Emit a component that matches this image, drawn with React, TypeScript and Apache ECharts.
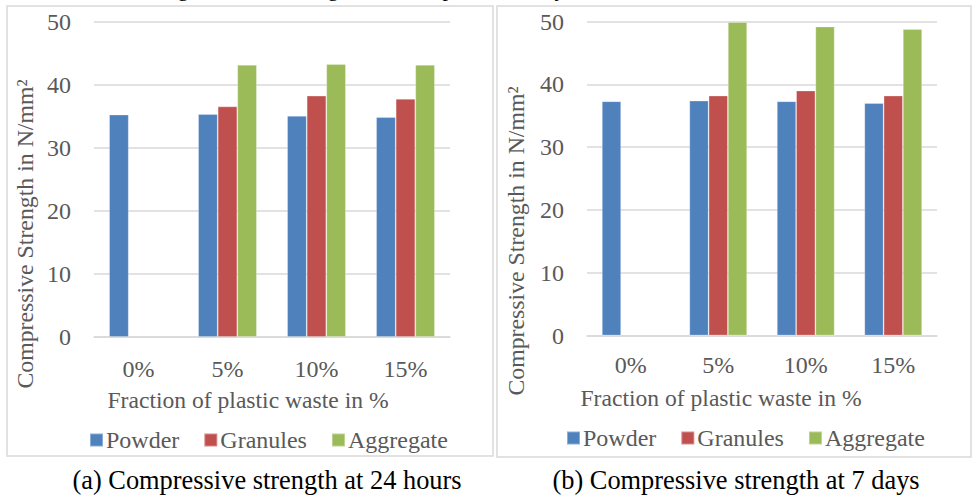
import React, { useEffect, useRef } from "react";
import * as echarts from "echarts";

const categories = ["0%", "5%", "10%", "15%"];
const seriesNames = ["Powder", "Granules", "Aggregate"];
const powder24h = [35.3, 35.4, 35.1, 34.9];
const granules24h = [null, 36.6, 38.3, 37.8];
const aggregate24h = [null, 43.2, 43.3, 43.2];
const powder7d = [37.3, 37.4, 37.3, 37.0];
const granules7d = [null, 38.2, 39.0, 38.2];
const aggregate7d = [null, 49.9, 49.2, 48.8];
const yTicks = [0, 10, 20, 30, 40, 50];
const colors = ["#4f81bd", "#c0504d", "#9bbb59"];

const FONT = "Liberation Serif";
const GRAY = "#595959";
const GRID_COLOR = "#d9d9d9";

export default function App() {
  const ref = useRef<HTMLDivElement>(null);
  useEffect(() => {
    if (!ref.current) return;
    const chart = echarts.init(ref.current, undefined, { renderer: "svg" });
    const yMin = yTicks[0];
    const yMax = yTicks[yTicks.length - 1];
    const yInterval = yTicks[1] - yTicks[0];
    const makeX = (gridIndex: number, margin: number) => ({
      type: "category",
      gridIndex,
      data: categories,
      axisLine: { lineStyle: { color: GRID_COLOR, width: 1.5 } },
      axisTick: { show: false },
      axisLabel: { color: GRAY, fontFamily: FONT, fontSize: 24, margin },
    });
    const makeY = (gridIndex: number) => ({
      type: "value",
      gridIndex,
      min: yMin,
      max: yMax,
      interval: yInterval,
      axisLine: { show: false },
      axisTick: { show: false },
      splitLine: { lineStyle: { color: GRID_COLOR, width: 1.5 } },
      axisLabel: { color: GRAY, fontFamily: FONT, fontSize: 24, margin: 23 },
    });
    const data24 = [powder24h, granules24h, aggregate24h];
    const data7 = [powder7d, granules7d, aggregate7d];
    const series: any[] = [];
    [data24, data7].forEach((set, gi) => {
      set.forEach((vals, si) => {
        series.push({
          type: "bar",
          name: seriesNames[si],
          xAxisIndex: gi,
          yAxisIndex: gi,
          data: vals,
          barGap: "0%",
          barCategoryGap: "34%",
          itemStyle: { color: colors[si], borderColor: "rgba(255,255,255,0.35)", borderWidth: 0.8 },
        });
      });
    });
    const legendBase = {
      data: seriesNames,
      orient: "horizontal",
      itemWidth: 13,
      itemHeight: 13,
      itemGap: 24,
      icon: "rect",
      textStyle: { color: GRAY, fontFamily: FONT, fontSize: 24, padding: [0, 0, 0, -2] },
      selectedMode: false,
    };
    const txt = (x: number, y: number, text: string, size: number, color: string, rotation = 0, va = "middle") => ({
      type: "text",
      x,
      y,
      rotation,
      silent: true,
      style: {
        text,
        fill: color,
        fontFamily: FONT,
        fontSize: size,
        align: "center",
        verticalAlign: va,
      },
    });
    chart.setOption({
      animation: false,
      grid: [
        { left: 94, top: 22, width: 356, height: 315 },
        { left: 587, top: 21.5, width: 350, height: 314 },
      ],
      xAxis: [makeX(0, 20), makeX(1, 17)],
      yAxis: [makeY(0), makeY(1)],
      legend: [
        { ...legendBase, left: 84, top: 423 },
        { ...legendBase, left: 561, top: 421 },
      ],
      series,
      graphic: [
        { type: "rect", silent: true, shape: { x: 7, y: 6, width: 486, height: 450 }, style: { fill: "none", stroke: GRID_COLOR, lineWidth: 1.5 } },
        { type: "rect", silent: true, shape: { x: 497, y: 6, width: 474, height: 451 }, style: { fill: "none", stroke: GRID_COLOR, lineWidth: 1.5 } },
        txt(248, 400, "Fraction of plastic waste in %", 23.6, GRAY),
        txt(721, 398, "Fraction of plastic waste in %", 23.6, GRAY),
        txt(25, 234, "Compressive Strength in N/mm²", 23.8, GRAY, Math.PI / 2),
        txt(516, 241, "Compressive Strength in N/mm²", 23.8, GRAY, Math.PI / 2),
        txt(267, 480, "(a) Compressive strength at 24 hours", 26.4, "#000"),
        txt(736, 480, "(b) Compressive strength at 7 days", 26.4, "#000"),
        txt(183, -1, "g", 22, "#000", 0, "bottom"),
        txt(333, -1, "g", 22, "#000", 0, "bottom"),
        txt(448, -1, "p", 22, "#000", 0, "bottom"),
        txt(560, -1, "y", 22, "#000", 0, "bottom"),
      ],
    });
    return () => chart.dispose();
  }, []);
  return (
    <div
      ref={ref}
      style={{ position: "absolute", left: 0, top: 0, width: 972, height: 496, background: "#fff" }}
    />
  );
}
